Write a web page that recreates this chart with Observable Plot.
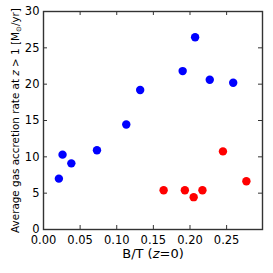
<!DOCTYPE html>
<html>
<head>
<meta charset="utf-8">
<script src="https://cdn.jsdelivr.net/npm/d3@7"></script>
<script src="https://cdn.jsdelivr.net/npm/@observablehq/plot@0.6"></script>
<style>
  html, body { margin: 0; padding: 0; background: white; }
</style>
</head>
<body>
<div id="chart"></div>
<script>
const blueBT   = [0.021, 0.026, 0.038, 0.073, 0.113, 0.132, 0.190, 0.207, 0.227, 0.259];
const blueRate = [7.0, 10.3, 9.1, 10.9, 14.45, 19.2, 21.8, 26.45, 20.6, 20.2];
const redBT    = [0.164, 0.193, 0.205, 0.217, 0.245, 0.277];
const redRate  = [5.4, 5.4, 4.45, 5.4, 10.75, 6.65];
const xTicks = [0, 0.05, 0.10, 0.15, 0.20, 0.25];
const yTicks = [0, 5, 10, 15, 20, 25, 30];
const xLabel = "B/T (z=0)";
const yLabel = "Average gas accretion rate at z > 1 [M⊙/yr]";

const blue = blueBT.map((x, i) => ({x, y: blueRate[i]}));
const red = redBT.map((x, i) => ({x, y: redRate[i]}));
const innerTicksX = xTicks.slice(1);
const innerTicksY = yTicks.slice(1, -1);

const W = 273, H = 273, mL = 43, mR = 11, mT = 11, mB = 44;
const fw = W - mL - mR, fh = H - mT - mB, tl = 4;

const plot = Plot.plot({
  width: W, height: H,
  marginLeft: mL, marginRight: mR, marginTop: mT, marginBottom: mB,
  style: {fontFamily: "DejaVu Sans", fontSize: "11.5px", background: "white", color: "black"},
  x: {domain: [0, 0.299]},
  y: {domain: [0, 30]},
  marks: [
    Plot.axisX({ticks: xTicks, tickSize: 0, tickPadding: 6, tickFormat: d3.format(".2f"), label: null, fontSize: 11.5}),
    Plot.axisY({ticks: yTicks, tickSize: 0, tickPadding: 4, tickFormat: d3.format("d"), label: null, fontSize: 11.5}),
    Plot.tickX(innerTicksX, {x: d => d, insetTop: fh - tl, stroke: "#333", strokeWidth: 1}),
    Plot.tickX(innerTicksX, {x: d => d, insetBottom: fh - tl, stroke: "#333", strokeWidth: 1}),
    Plot.tickY(innerTicksY, {y: d => d, insetRight: fw - tl, stroke: "#333", strokeWidth: 1}),
    Plot.tickY(innerTicksY, {y: d => d, insetLeft: fw - tl, stroke: "#333", strokeWidth: 1}),
    Plot.frame({stroke: "#333", strokeWidth: 1.4}),
    Plot.dot(blue, {x: "x", y: "y", r: 4.2, fill: "#0000ff", stroke: null}),
    Plot.dot(red, {x: "x", y: "y", r: 4.2, fill: "#ff0000", stroke: null}),
    Plot.text([xLabel], {text: d => d, frameAnchor: "bottom", dy: 28, lineAnchor: "bottom", fontSize: 13}),
    Plot.text([yLabel], {text: d => d, frameAnchor: "left", dx: -25, rotate: -90, textAnchor: "middle", lineAnchor: "bottom", fontSize: 10.4})
  ]
});

document.getElementById("chart").appendChild(plot);

// Rich-text patch: italic z and subscript sun symbol
function rich(el, parts) {
  while (el.firstChild) el.removeChild(el.firstChild);
  const ns = "http://www.w3.org/2000/svg";
  for (const p of parts) {
    const t = document.createElementNS(ns, "tspan");
    t.textContent = p.s;
    if (p.italic) t.setAttribute("font-style", "italic");
    if (p.sub) { t.setAttribute("font-size", p.size); t.setAttribute("dy", p.dy); }
    if (p.reset) { t.setAttribute("dy", p.reset); }
    el.appendChild(t);
  }
}
d3.select(plot).selectAll("text").each(function() {
  const s = this.textContent;
  if (s === xLabel) {
    rich(this, [{s: "B/T ("}, {s: "z", italic: true}, {s: "=0)"}]);
  } else if (s === yLabel) {
    rich(this, [
      {s: "Average gas accretion rate at "}, {s: "z", italic: true}, {s: " > 1 [M"},
      {s: "⊙", sub: true, size: "7px", dy: "2"}, {s: "/yr]", reset: "-2"}
    ]);
  }
});
</script>
</body>
</html>
